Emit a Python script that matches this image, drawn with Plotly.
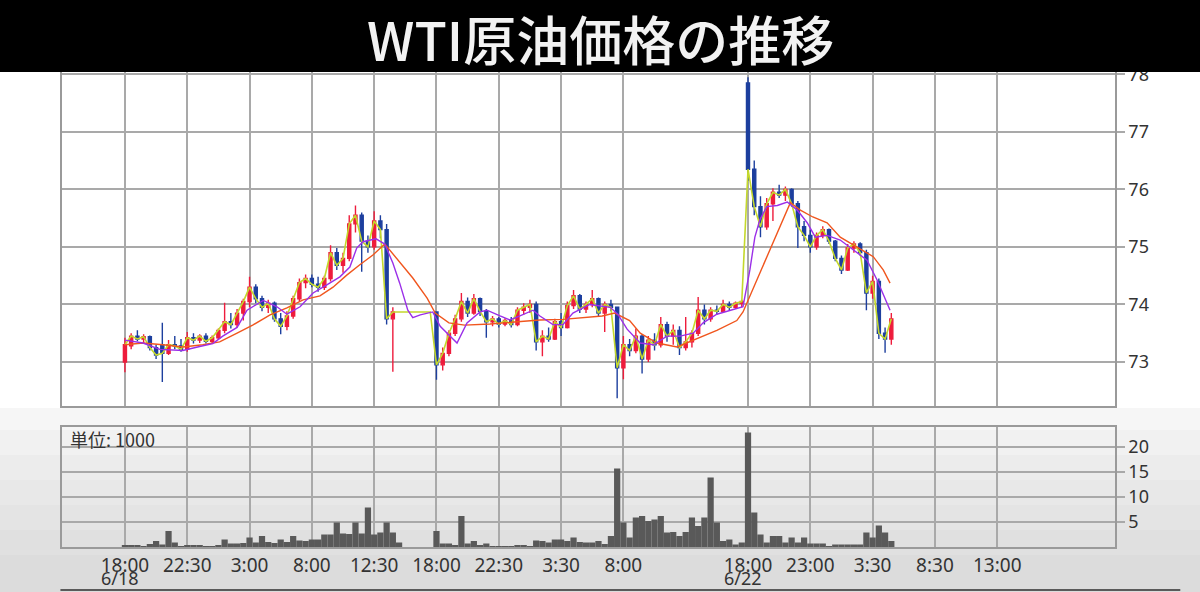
import numpy as np
import plotly.graph_objects as go

# ---- data ----
# one bar per index; ticks every 10 bars
bar_open = [73.00, 73.28, 73.45, 73.40, 73.44, 73.25, 73.30, 73.15, 73.30, 73.28,
            73.22, 73.42, 73.38, 73.45, 73.36, 73.42, 73.55, 73.70, 73.65, 73.85,
            74.05, 74.30, 74.10, 73.95, 74.02, 73.75, 73.62, 73.80, 74.10, 74.38,
            74.45, 74.35, 74.30, 74.45, 74.90, 74.68, 74.80, 75.40, 75.55, 75.10,
            75.00, 75.45, 75.30, 73.75, None, None, None, None, None, None,
            73.87, 72.95, 73.15, 73.50, 73.75, 74.05, 73.85, 74.10, 73.88, 73.70,
            73.75, 73.66, 73.72, 73.65, 73.90, 73.95, 74.00, 73.35, 73.45, 73.40,
            73.70, 73.60, 73.98, 74.15, 73.92, 74.00, 74.10, 73.85, 74.00, 73.95,
            72.90, 73.30, 73.20, 73.45, 73.05, 73.38, 73.30, 73.65, 73.45, 73.55,
            73.25, 73.35, 73.50, 73.90, 73.75, 73.90, 73.88, 74.00, 73.95, 74.02,
            77.85, 76.35, 75.70, 75.35, 75.75, 75.95, 75.90, 76.00, 75.75, 75.35,
            75.20, 75.00, 75.20, 75.30, 75.10, 74.80, 74.60, 74.98, 75.05, 74.90,
            74.20, 74.40, 73.50, 73.40]
bar_high = [73.42, 73.50, 73.55, 73.48, 73.46, 73.30, 73.68, 73.38, 73.45, 73.40,
            73.52, 73.50, 73.48, 73.50, 73.46, 73.58, 74.03, 73.85, 73.92, 74.10,
            74.48, 74.35, 74.15, 74.08, 74.05, 73.85, 73.88, 74.15, 74.45, 74.52,
            74.52, 74.48, 74.50, 75.03, 74.98, 74.90, 75.55, 75.72, 75.60, 75.20,
            75.62, 75.55, 75.40, 73.95, None, None, None, None, None, None,
            73.87, 73.25, 73.55, 73.82, 74.20, 74.12, 74.18, 74.12, 73.92, 73.80,
            73.78, 73.76, 73.78, 73.95, 74.02, 74.08, 74.05, 73.55, 73.60, 73.75,
            73.85, 74.05, 74.25, 74.18, 74.05, 74.25, 74.12, 74.05, 74.08, 73.95,
            73.45, 73.40, 73.58, 73.48, 73.45, 73.50, 73.78, 73.70, 73.65, 73.62,
            73.78, 73.55, 74.13, 74.00, 73.95, 73.98, 74.08, 74.05, 74.05, 74.08,
            77.95, 76.50, 75.88, 75.85, 76.02, 76.08, 76.05, 76.02, 75.80, 75.45,
            75.30, 75.25, 75.36, 75.32, 75.12, 74.85, 75.05, 75.10, 75.08, 74.95,
            74.50, 74.45, 73.60, 73.85]
bar_low = [72.82, 73.22, 73.36, 73.33, 73.20, 73.05, 72.65, 73.12, 73.22, 73.18,
           73.18, 73.32, 73.33, 73.32, 73.32, 73.38, 73.50, 73.58, 73.60, 73.72,
           73.95, 74.02, 73.88, 73.85, 73.70, 73.48, 73.55, 73.75, 74.05, 74.28,
           74.30, 74.22, 74.25, 74.40, 74.60, 74.55, 74.75, 75.25, 74.57, 74.90,
           74.95, 75.15, 73.65, 72.83, None, None, None, None, None, None,
           72.69, 72.85, 73.10, 73.45, 73.70, 73.78, 73.82, 73.80, 73.42, 73.62,
           73.60, 73.62, 73.60, 73.62, 73.82, 73.85, 73.20, 73.10, 73.35, 73.38,
           73.45, 73.58, 73.92, 73.85, 73.85, 73.95, 73.78, 73.52, 73.88, 72.37,
           72.70, 73.10, 73.15, 72.80, 73.00, 73.20, 73.25, 73.35, 73.30, 73.12,
           73.20, 73.25, 73.45, 73.65, 73.70, 73.82, 73.85, 73.90, 73.92, 73.95,
           76.15, 75.55, 75.17, 75.30, 75.45, 75.85, 75.80, 75.70, 74.98, 75.10,
           74.90, 74.95, 75.15, 75.05, 74.75, 74.53, 74.58, 74.90, 74.85, 73.90,
           74.10, 73.40, 73.16, 73.30]
bar_close = [73.30, 73.45, 73.40, 73.44, 73.25, 73.12, 73.15, 73.30, 73.28, 73.22,
             73.42, 73.38, 73.45, 73.36, 73.42, 73.55, 73.70, 73.65, 73.85, 74.05,
             74.30, 74.10, 73.95, 74.02, 73.75, 73.62, 73.80, 74.10, 74.38, 74.45,
             74.35, 74.30, 74.45, 74.90, 74.68, 74.80, 75.40, 75.55, 75.10, 75.00,
             75.45, 75.30, 73.75, 73.87, 73.87, 73.87, 73.87, 73.87, 73.87, 73.87,
             72.95, 73.15, 73.50, 73.75, 74.05, 73.85, 74.10, 73.88, 73.70, 73.75,
             73.66, 73.72, 73.65, 73.90, 73.95, 74.00, 73.35, 73.45, 73.40, 73.70,
             73.60, 73.98, 74.15, 73.92, 74.00, 74.10, 73.85, 74.00, 73.95, 72.90,
             73.30, 73.20, 73.45, 73.05, 73.38, 73.30, 73.65, 73.45, 73.55, 73.25,
             73.35, 73.50, 73.90, 73.75, 73.90, 73.88, 74.00, 73.95, 74.02, 74.05,
             76.35, 75.70, 75.35, 75.75, 75.95, 75.90, 76.00, 75.75, 75.35, 75.20,
             75.00, 75.20, 75.30, 75.10, 74.80, 74.60, 74.98, 75.05, 74.90, 74.20,
             74.40, 73.50, 73.40, 73.75]
# volume, unit: 1000
volume = [0.4, 0.4, 0.3, 0.1, 0.6, 1.2, 0.5, 3.2, 0.9, 0.2,
          0.4, 0.4, 0.4, 0.1, 0.2, 0.3, 1.5, 0.7, 0.7, 0.8,
          1.9, 0.9, 2.2, 1.0, 0.8, 1.5, 1.0, 2.2, 1.3, 1.2,
          1.5, 1.5, 2.5, 2.5, 4.9, 2.7, 2.6, 4.9, 2.7, 7.9,
          2.5, 2.9, 4.9, 2.9, 0.9, 0, 0, 0, 0, 0,
          3.2, 0.7, 0.7, 0.3, 6.2, 0.7, 1.2, 0.4, 0.7, 0.2,
          0.2, 0.2, 0.2, 0.4, 0.4, 0.2, 1.3, 1.2, 0.9, 1.5,
          1.5, 1.2, 1.9, 1.0, 0.9, 0.9, 1.2, 0.6, 2.2, 15.7,
          4.9, 1.9, 5.9, 6.2, 5.2, 5.5, 6.2, 2.9, 3.0, 2.2,
          3.0, 5.9, 4.2, 5.9, 13.9, 4.9, 1.2, 1.5, 0.5, 0.9,
          22.9, 6.9, 2.5, 0.9, 2.2, 2.2, 0.9, 1.9, 0.9, 1.9,
          0.7, 0.7, 0.7, 0.2, 0.5, 0.5, 0.5, 0.5, 0.5, 2.9,
          1.9, 4.3, 2.9, 1.2]

# moving averages (traced)
ma_short_x = [0, 2.9, 5.6, 9.3, 12, 14.1, 15.7, 18, 19.6, 22.2, 24.4, 26, 28.1, 30.2,
              32.4, 34.5, 36.1, 37.2, 38.2, 40.3, 41.7, 43, 44.1, 45.4, 46.2, 47.4,
              49.4, 50.6, 53.3, 54.9, 57, 58.1, 60.2, 61.8, 63.4, 65.5, 66.6, 68.7,
              70.3, 71.9, 74.6, 77.9, 79.1, 80.6, 82.7, 84.8, 87, 89.1, 91.2, 92.8,
              95, 97.1, 99.2, 100.3, 101.1, 101.9, 103, 104.7, 106.3, 107.9, 109.5,
              110.8, 112.7, 114.8, 116.9, 119.1, 120.7, 122.3, 122.8]
ma_short_y = [73.38, 73.33, 73.22, 73.20, 73.27, 73.32, 73.45, 73.60, 73.90, 74.07,
              73.96, 73.83, 73.96, 74.20, 74.34, 74.48, 74.65, 74.98, 75.09, 75.14,
              75.05, 74.72, 74.37, 73.90, 73.77, 73.82, 73.87, 73.62, 73.33, 73.68,
              73.87, 73.90, 73.80, 73.73, 73.80, 73.90, 73.80, 73.65, 73.65, 73.85,
              74.00, 73.95, 73.83, 73.57, 73.33, 73.30, 73.45, 73.45, 73.50, 73.68,
              73.83, 73.90, 73.96, 74.60, 75.17, 75.47, 75.70, 75.72, 75.78, 75.64,
              75.42, 75.17, 75.20, 75.12, 74.95, 74.77, 74.43, 74.03, 73.90]
ma_long_x = [0, 2.9, 6.1, 9.3, 12.5, 15.2, 18, 20.5, 23.3, 26, 28.6, 31.3, 33.4, 35.6,
             37.7, 39.8, 41.7, 44.1, 46.2, 48.5, 49.8, 52, 54.5, 58.6, 63.4, 66.6,
             70.3, 76.6, 78.6, 81.0, 82.7, 85.4, 88.6, 91.8, 95, 98.2, 99.2, 106.8,
             108.4, 110.4, 112.7, 114.8, 117.5, 120.1, 121.7, 122.8]
ma_long_y = [73.30, 73.33, 73.30, 73.26, 73.30, 73.35, 73.50, 73.64, 73.82, 73.94,
             74.08, 74.15, 74.30, 74.51, 74.69, 74.86, 75.05, 74.74, 74.46, 74.11,
             73.85, 73.68, 73.64, 73.66, 73.70, 73.73, 73.74, 73.80, 73.85, 73.72,
             73.50, 73.33, 73.26, 73.40, 73.55, 73.72, 73.87, 75.77, 75.64, 75.52,
             75.42, 75.17, 75.00, 74.83, 74.60, 74.37]

tick_pos = [0, 10, 20, 30, 40, 50, 60, 70, 80, 100, 110, 120, 130, 140]
tick_text = ["18:00", "22:30", "3:00", "8:00", "12:30", "18:00", "22:30",
             "3:30", "8:00", "18:00", "23:00", "3:30", "8:30", "13:00"]
date_pos = [0, 100]
date_text = ["6/18", "6/22"]
price_ticks = [73, 74, 75, 76, 77, 78]
vol_ticks = [5, 10, 15, 20]

bar_idx = np.arange(len(bar_close))

RED = "#ee1c3c"
BLUE = "#1d3f9e"
GRID = "#a9a9a9"
TXT = "#333333"

fig = go.Figure()

# close line (yellow-green) under the candles
fig.add_trace(go.Scatter(x=bar_idx, y=bar_close, mode="lines",
                         line=dict(color="#c4d82c", width=1.6),
                         xaxis="x", yaxis="y", hoverinfo="skip"))
fig.add_trace(go.Candlestick(
    x=bar_idx, open=bar_open, high=bar_high, low=bar_low, close=bar_close,
    increasing=dict(line=dict(color=RED, width=1.4), fillcolor=RED),
    decreasing=dict(line=dict(color=BLUE, width=1.4), fillcolor=BLUE),
    whiskerwidth=0, xaxis="x", yaxis="y"))
fig.add_trace(go.Scatter(x=ma_long_x, y=ma_long_y, mode="lines",
                         line=dict(color="#f0561e", width=1.4),
                         xaxis="x", yaxis="y"))
fig.add_trace(go.Scatter(x=ma_short_x, y=ma_short_y, mode="lines",
                         line=dict(color="#9b2fe8", width=1.4),
                         xaxis="x", yaxis="y"))

# volume
fig.add_trace(go.Bar(x=bar_idx, y=volume, width=1.0,
                     marker=dict(color="#595959", line=dict(width=0)),
                     xaxis="x2", yaxis="y2"))

# plot area: 62..1115 px wide, rows 72..547 (475 rows); margins stay fixed
axis_common = dict(showgrid=True, gridcolor=GRID, gridwidth=2, zeroline=False,
                   showline=True, mirror=True, linecolor="#9a9a9a", linewidth=1.5,
                   automargin=False)


def py(pix):
    # picture row -> paper y
    return (547 - pix) / 475


# light grey gradient behind the lower panel, built from bands
band_edges = [408, 430, 455, 480, 505, 530, 555, 600]
band_cols = ["#f6f6f6", "#f1f1f1", "#ececec", "#e8e8e8", "#e4e4e4", "#e0e0e0", "#dcdcdc"]
shapes = []
for k, col in enumerate(band_cols):
    shapes.append(dict(type="rect", xref="paper", yref="paper", x0=-0.07, x1=1.09,
                       y0=py(band_edges[k + 1]), y1=py(band_edges[k]),
                       fillcolor=col, line=dict(width=0), layer="below"))
shapes.append(dict(type="line", xref="paper", yref="paper", x0=-0.0015, x1=1.062,
                   y0=py(590), y1=py(590), line=dict(color="#5a5a5a", width=2)))
# black title bar
shapes.append(dict(type="rect", xref="paper", yref="paper", x0=-0.07, x1=1.09,
                   y0=1.0, y1=1.2, fillcolor="black", line=dict(width=0),
                   layer="above"))

annotations = [
    dict(text="WTI原油価格の推移", xref="paper", yref="paper",
         x=(600 - 62) / 1053, y=py(38), xanchor="center", yanchor="middle",
         showarrow=False,
         font=dict(family="Noto Sans CJK JP", size=53, color="#f2f2f2", weight=500)),
    dict(text="単位: 1000", xref="paper", yref="paper",
         x=(68 - 62) / 1053, y=py(439), xanchor="left", yanchor="middle",
         showarrow=False,
         font=dict(family="Noto Sans CJK JP", size=18, color=TXT)),
]
# second line of the time axis: dates, left-aligned under their time label
for pos, txt in zip(date_pos, date_text):
    annotations.append(dict(text=txt, xref="x2", yref="paper", x=pos, y=py(591),
                            xanchor="left", yanchor="bottom", xshift=-25,
                            borderpad=0, showarrow=False,
                            font=dict(size=18, color=TXT)))

fig.update_layout(
    width=1200, height=592, autosize=False,
    margin=dict(l=62, r=85, t=72, b=45, autoexpand=False),
    paper_bgcolor="white", plot_bgcolor="rgba(0,0,0,0)",
    showlegend=False,
    font=dict(family="Noto Sans, DejaVu Sans, sans-serif", color=TXT),
    xaxis=dict(domain=[0, 1], range=[-10.1, 158.9], anchor="y",
               tickvals=tick_pos, showticklabels=False, ticks="",
               rangeslider=dict(visible=False), **axis_common),
    xaxis2=dict(domain=[0, 1], range=[-10.1, 158.9], anchor="y2", matches="x",
                tickvals=tick_pos, ticktext=tick_text, ticks="",
                tickfont=dict(size=19, color=TXT), **axis_common),
    yaxis=dict(domain=[py(406), 1], range=[72.235, 78.04], anchor="x",
               side="right", tickvals=price_ticks, ticks="outside", ticklen=8,
               tickcolor=GRID, tickwidth=1.5,
               tickfont=dict(size=18, color=TXT), **axis_common),
    yaxis2=dict(domain=[0, py(427)], range=[0, 24], anchor="x2",
                side="right", tickvals=vol_ticks, ticks="outside", ticklen=8,
                tickcolor=GRID, tickwidth=1.5,
                tickfont=dict(size=18, color=TXT), **axis_common),
    shapes=shapes,
    annotations=annotations,
)

# no body margin, no mode bar
no_margin = ("document.body.style.margin='0px';"
             "document.body.style.overflow='hidden';")
fig.write_html("out.html", config={"displayModeBar": False},
               post_script=no_margin)
